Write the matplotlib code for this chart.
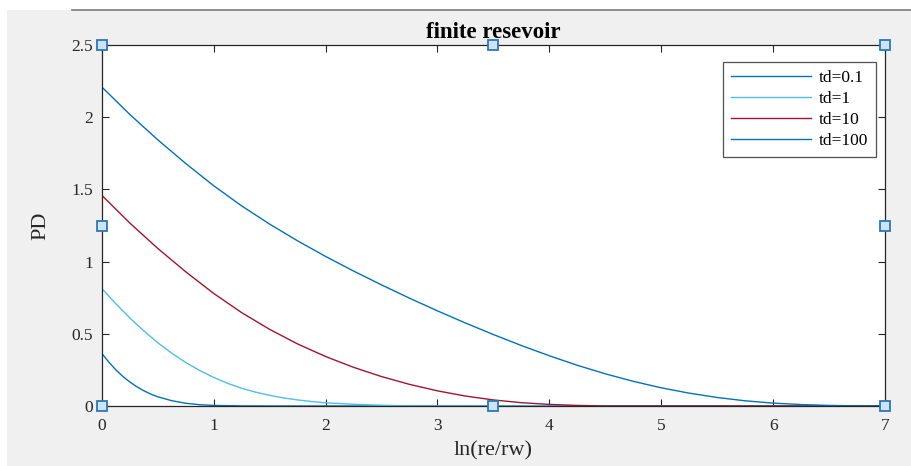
"""finite reservoir PD curves, MATLAB-style figure look."""
import matplotlib; matplotlib.use('Agg')
import matplotlib.pyplot as plt
from matplotlib.patches import Rectangle
from matplotlib.lines import Line2D

plt.rcParams['font.family'] = ['Liberation Serif', 'DejaVu Serif']

# ----- data -----
x_01 = [0, 0.0625, 0.125, 0.1875, 0.25, 0.3125, 0.375, 0.4375, 0.5, 0.625, 0.75, 0.875,
        1.0, 1.25, 1.5, 2, 3, 4, 5, 6, 7]
pd_01 = [0.365, 0.305, 0.252, 0.206, 0.167, 0.134, 0.106, 0.083, 0.064, 0.037, 0.019, 0.009,
         0.004, 0.0007, 0, 0, 0, 0, 0, 0, 0]

x_1 = [0, 0.125, 0.25, 0.375, 0.5, 0.625, 0.75, 0.875, 1.0, 1.125, 1.25, 1.375, 1.5,
       1.625, 1.75, 1.875, 2.0, 2.25, 2.5, 2.75, 3, 4, 5, 6, 7]
pd_1 = [0.815, 0.709, 0.611, 0.521, 0.439, 0.366, 0.302, 0.246, 0.198, 0.157, 0.123, 0.096,
        0.074, 0.056, 0.042, 0.031, 0.022, 0.012, 0.005, 0.001, 0, 0, 0, 0, 0]

x_10 = [0, 0.25, 0.5, 0.75, 1.0, 1.25, 1.5, 1.75, 2.0, 2.25, 2.5, 2.75, 3.0,
        3.25, 3.5, 3.75, 4.0, 4.25, 4.5, 5, 6, 7]
pd_10 = [1.46, 1.268, 1.092, 0.930, 0.780, 0.647, 0.531, 0.430, 0.343, 0.268, 0.204, 0.150,
         0.105, 0.069, 0.042, 0.023, 0.011, 0.004, 0, 0, 0, 0]

x_100 = [0, 0.25, 0.5, 0.75, 1.0, 1.25, 1.5, 1.75, 2.0, 2.25, 2.5, 2.75, 3.0, 3.25, 3.5,
         3.75, 4.0, 4.25, 4.5, 4.75, 5.0, 5.25, 5.5, 5.75, 6.0, 6.25, 6.5, 6.75, 7.0]
pd_100 = [2.21, 2.020, 1.844, 1.680, 1.526, 1.386, 1.260, 1.144, 1.036, 0.935, 0.839, 0.747,
          0.659, 0.575, 0.495, 0.419, 0.348, 0.282, 0.223, 0.171, 0.126, 0.089, 0.059,
          0.036, 0.020, 0.010, 0.004, 0.001, 0]

SERIES = [
    (x_01, pd_01, 'td=0.1', '#0072BD'),
    (x_1, pd_1, 'td=1', '#4DBEEE'),
    (x_10, pd_10, 'td=10', '#A2142F'),
    (x_100, pd_100, 'td=100', '#0072BD'),
]

fig = plt.figure(figsize=(9.12, 4.66), dpi=100, facecolor='white')
W, H = 912, 466
# grey window background with white screenshot margins
fig.patches.append(Rectangle((7 / W, 0), 1, 1 - 10 / H, transform=fig.transFigure,
                             facecolor='#F0F0F0', edgecolor='none', zorder=-10))
fig.lines.append(Line2D([72 / W, 1], [1 - 10 / H, 1 - 10 / H], transform=fig.transFigure,
                        color='#7a7a7a', lw=1.2))

ax = fig.add_axes([101.7 / W, 60 / H, (885 - 101.7) / W, 361 / H])
ax.set_facecolor('white')

for xs, ys, label, color in SERIES:
    ax.plot(xs, ys, color=color, lw=1.0, label=label)

ax.set_xlim(0, 7)
ax.set_ylim(0, 2.5)
ax.set_xticks(range(8))
ax.set_yticks([0, 0.5, 1, 1.5, 2, 2.5])
ax.set_yticklabels(['0', '0.5', '1', '1.5', '2', '2.5'])
ax.tick_params(direction='in', length=5, width=0.8, top=True, right=True,
               labelsize=12.5, colors='#262626')
ax.tick_params(axis='x', pad=9)
ax.tick_params(axis='y', pad=6)
for s in ax.spines.values():
    s.set_color('#262626')
    s.set_linewidth(0.9)

ax.set_title('finite resevoir', fontsize=16.5, fontweight='bold', pad=5)
ax.set_xlabel('ln(re/rw)', fontsize=16, color='#262626')
ax.set_ylabel('PD', fontsize=16, color='#262626')
ax.xaxis.set_label_coords(0.5, -0.098)
ax.yaxis.set_label_coords(-0.066, 0.5)

leg = ax.legend(loc='upper right', bbox_to_anchor=(0.9885, 0.953), fontsize=12.5,
                frameon=True, fancybox=False, borderpad=0.45, labelspacing=0.28,
                handlelength=4.6, handletextpad=0.45, borderaxespad=0)
leg.get_frame().set_edgecolor('#262626')
leg.get_frame().set_linewidth(0.9)

# selection handles
hx = [0, 0.5, 1, 0, 1, 0, 0.5, 1]
hy = [0, 0, 0, 0.5, 0.5, 1, 1, 1]
ax.plot(hx, hy, ls='none', marker='s', ms=6.5, mfc='#cfe3f3', mec='#2a78b8', mew=1.3,
        transform=ax.transAxes, clip_on=False, zorder=10)

plt.savefig('out.png', dpi=100, facecolor=fig.get_facecolor())
plt.close()
